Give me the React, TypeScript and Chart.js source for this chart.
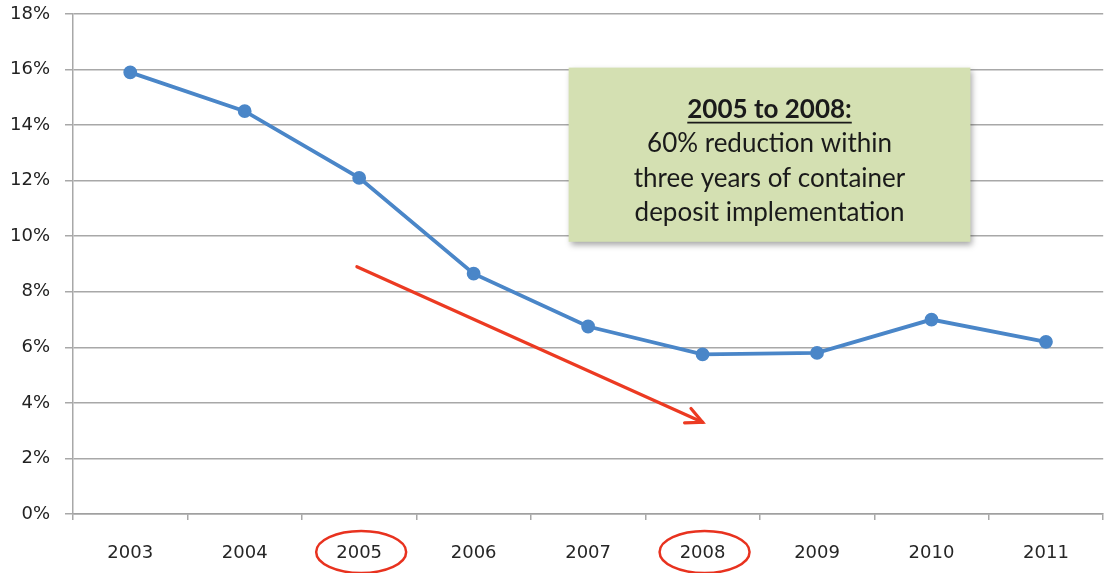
import { useEffect, useRef } from 'react';
import { Chart, registerables } from 'chart.js';

Chart.register(...registerables);

const years = ['2003', '2004', '2005', '2006', '2007', '2008', '2009', '2010', '2011'];
const shares = [15.9, 14.5, 12.1, 8.65, 6.75, 5.75, 5.8, 7.0, 6.2];
const yTicks = [0, 2, 4, 6, 8, 10, 12, 14, 16, 18];
const boxTitle = '2005 to 2008:';
const boxLines = ['60% reduction within', 'three years of container', 'deposit implementation'];
const highlighted = ['2005', '2008'];
const arrowFrom = { x: 1.98, y: 8.9 };
const arrowTo = { x: 5.0, y: 3.3 };
const boxArea = { x0: 3.83, x1: 7.34, y0: 16.07, y1: 9.8 };

const BOX_FONT = 'Lato, "Open Sans", "DejaVu Sans", sans-serif';
const AXIS_FONT = '"DejaVu Sans", "Open Sans", sans-serif';

const annotationPlugin = {
  id: 'annotations',
  afterDatasetsDraw(chart: any) {
    const { ctx, scales } = chart;
    const xs = scales.x;
    const ys = scales.y;
    ctx.save();

    // arrow
    const ax0 = xs.getPixelForValue(arrowFrom.x);
    const ay0 = ys.getPixelForValue(arrowFrom.y);
    const ax1 = xs.getPixelForValue(arrowTo.x);
    const ay1 = ys.getPixelForValue(arrowTo.y);
    ctx.strokeStyle = '#ec3a22';
    ctx.lineWidth = 3.2;
    ctx.lineCap = 'round';
    ctx.beginPath();
    ctx.moveTo(ax0, ay0);
    ctx.lineTo(ax1, ay1);
    ctx.stroke();
    const ang = Math.atan2(ay1 - ay0, ax1 - ax0);
    const hl = 18;
    ctx.beginPath();
    ctx.moveTo(ax1 - hl * Math.cos(ang - 0.45), ay1 - hl * Math.sin(ang - 0.45));
    ctx.lineTo(ax1, ay1);
    ctx.lineTo(ax1 - hl * Math.cos(ang + 0.45), ay1 - hl * Math.sin(ang + 0.45));
    ctx.stroke();

    // box
    const bx0 = xs.getPixelForValue(boxArea.x0);
    const bx1 = xs.getPixelForValue(boxArea.x1);
    const by0 = ys.getPixelForValue(boxArea.y0);
    const by1 = ys.getPixelForValue(boxArea.y1);
    ctx.save();
    ctx.shadowColor = 'rgba(0,0,0,0.35)';
    ctx.shadowBlur = 6;
    ctx.shadowOffsetX = 2;
    ctx.shadowOffsetY = 3;
    ctx.fillStyle = '#d4e0b2';
    ctx.fillRect(bx0, by0, bx1 - bx0, by1 - by0);
    ctx.restore();

    const cx = (bx0 + bx1) / 2;
    ctx.fillStyle = '#1a1a1a';
    ctx.textAlign = 'center';
    ctx.textBaseline = 'middle';
    ctx.font = `bold 26px ${BOX_FONT}`;
    const ty = by0 + 42;
    ctx.fillText(boxTitle, cx, ty);
    const tw = ctx.measureText(boxTitle).width;
    ctx.strokeStyle = '#1a1a1a';
    ctx.lineWidth = 1.8;
    ctx.lineCap = 'butt';
    ctx.beginPath();
    ctx.moveTo(cx - tw / 2, ty + 13);
    ctx.lineTo(cx + tw / 2, ty + 13);
    ctx.stroke();
    ctx.font = `26px ${BOX_FONT}`;
    boxLines.forEach((line, i) => {
      ctx.fillText(line, cx, ty + 34 + i * 34.5);
    });

    // ellipses
    ctx.strokeStyle = '#e8321f';
    ctx.lineWidth = 2.5;
    highlighted.forEach((lab) => {
      const idx = years.indexOf(lab);
      const ex = xs.getPixelForValue(idx) + 2;
      const ey = xs.top + 38;
      ctx.beginPath();
      ctx.ellipse(ex, ey, 45, 21, 0, 0, Math.PI * 2);
      ctx.stroke();
    });

    ctx.restore();
  },
};

export default function App() {
  const ref = useRef<HTMLCanvasElement | null>(null);

  useEffect(() => {
    if (!ref.current) return;
    const chart = new Chart(ref.current, {
      type: 'line',
      data: {
        labels: years,
        datasets: [
          {
            data: shares,
            borderColor: '#4a86c8',
            backgroundColor: '#4a86c8',
            borderWidth: 3.8,
            pointRadius: 5,
            pointBackgroundColor: '#4a86c8',
            pointBorderColor: '#4a86c8',
            tension: 0,
          },
        ],
      },
      options: {
        animation: false,
        responsive: false,
        maintainAspectRatio: false,
        layout: { padding: { top: 14, right: 0, bottom: 0, left: 0 } },
        plugins: { legend: { display: false }, tooltip: { enabled: false } },
        scales: {
          x: {
            offset: true,
            afterFit(axis: any) {
              axis.height = 59;
              axis.paddingLeft = 0;
              axis.paddingRight = 0;
            },
            grid: {
              offset: true,
              drawOnChartArea: false,
              drawTicks: true,
              tickLength: 6,
              color: '#a8a8a8',
              lineWidth: 1.5,
            },
            border: { color: '#a0a0a0', width: 1.5 },
            ticks: {
              color: '#262626',
              font: { family: AXIS_FONT, size: 18 },
              padding: 23,
              maxRotation: 0,
            },
          },
          y: {
            min: 0,
            max: 18,
            afterFit(axis: any) {
              axis.width = 73;
              axis.paddingTop = 0;
              axis.paddingBottom = 0;
            },
            afterBuildTicks(axis: any) {
              axis.ticks = yTicks.map((v) => ({ value: v }));
            },
            grid: {
              color: '#a8a8a8',
              lineWidth: 1.5,
              tickLength: 8,
            },
            border: { color: '#a8a8a8', width: 1.5 },
            ticks: {
              color: '#222222',
              font: { family: AXIS_FONT, size: 18 },
              padding: 15,
              callback: (v: any) => `${v}%`,
            },
          },
        },
      },
      plugins: [annotationPlugin],
    });
    return () => chart.destroy();
  }, []);

  return (
    <div
      style={{
        position: 'fixed',
        left: 0,
        top: 0,
        width: 1107,
        height: 573,
        overflow: 'hidden',
        background: '#fff',
      }}
    >
      <canvas ref={ref} width={1112} height={573} style={{ display: 'block', width: 1112, height: 573 }} />
    </div>
  );
}
